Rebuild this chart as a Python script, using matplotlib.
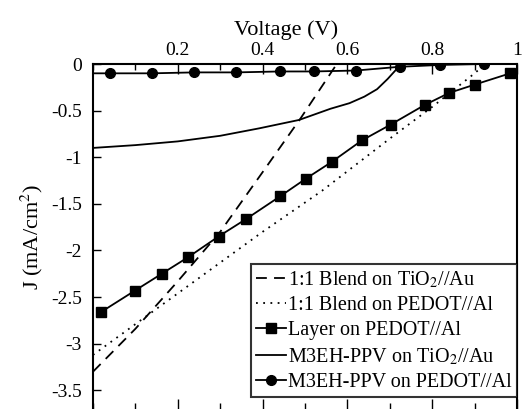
import matplotlib
matplotlib.use('Agg')
import matplotlib.pyplot as plt
from matplotlib.ticker import MultipleLocator

plt.rcParams['font.family'] = 'serif'
plt.rcParams['font.serif'] = ['Liberation Serif', 'DejaVu Serif']
plt.rcParams['mathtext.fontset'] = 'stix'

# 1:1 blend on TiO2//Au (dashed)
blend_tio2_v = [0.0, 0.1, 0.2, 0.3, 0.4, 0.49, 0.575]
blend_tio2_j = [-3.3, -2.84, -2.33, -1.8, -1.16, -0.58, 0.0]

# 1:1 blend on PEDOT//Al (dotted)
blend_pedot_v = [0.0, 0.2, 0.4, 0.54, 0.7, 0.8, 0.9, 0.92]
blend_pedot_j = [-3.12, -2.46, -1.8, -1.36, -0.8, -0.46, -0.1, -0.02]

# layer on PEDOT//Al (squares)
layer_v = [0.019, 0.099, 0.162, 0.225, 0.296, 0.362, 0.441, 0.502, 0.563,
           0.634, 0.702, 0.782, 0.840, 0.901, 0.984]
layer_j = [-2.66, -2.43, -2.25, -2.07, -1.85, -1.66, -1.42, -1.23, -1.05,
           -0.82, -0.65, -0.44, -0.31, -0.22, -0.10]

# M3EH-PPV on TiO2//Au (solid)
ppv_tio2_v = [0.0, 0.1, 0.2, 0.3, 0.392, 0.486, 0.56, 0.605, 0.64, 0.67, 0.695, 0.715, 0.735]
ppv_tio2_j = [-0.9, -0.87, -0.83, -0.77, -0.69, -0.6, -0.48, -0.42, -0.35, -0.27, -0.16, -0.06, -0.02]

# M3EH-PPV on PEDOT//Al (circles)
ppv_pedot_v = [0.0, 0.04, 0.139, 0.239, 0.338, 0.441, 0.521, 0.62, 0.723, 0.819, 0.922]
ppv_pedot_j = [-0.1, -0.1, -0.1, -0.09, -0.09, -0.08, -0.08, -0.07, -0.03, -0.01, 0.0]
ppv_pedot_marked = list(range(1, len(ppv_pedot_v)))

xticks = [0.2, 0.4, 0.6, 0.8, 1.0]
xticklabels = ['0.2', '0.4', '0.6', '0.8', '1']
yticks = [0, -0.5, -1, -1.5, -2, -2.5, -3, -3.5]
yticklabels = ['0', '-0.5', '-1', '-1.5', '-2', '-2.5', '-3', '-3.5']

fig = plt.figure(figsize=(5.22, 4.09), dpi=100)
ax = fig.add_axes([93 / 522, 0.0, 424 / 522, 1 - 64 / 409])

ax.plot(blend_tio2_v, blend_tio2_j, color='black', lw=1.3, ls=(0, (6, 4)),
        label='1:1 Blend on TiO$_2$//Au')
ax.plot(blend_pedot_v, blend_pedot_j, color='black', lw=1.3, ls=(0, (1, 3)),
        label='1:1 Blend on PEDOT//Al')
ax.plot(layer_v, layer_j, color='black', lw=1.3, marker='s', ms=7.5,
        label='Layer on PEDOT//Al')
ax.plot(ppv_tio2_v, ppv_tio2_j, color='black', lw=1.3,
        label='M3EH-PPV on TiO$_2$//Au')
ax.plot(ppv_pedot_v, ppv_pedot_j, color='black', lw=1.3, marker='o', ms=7,
        markevery=ppv_pedot_marked, label='M3EH-PPV on PEDOT//Al')

ax.set_xlim(0, 1)
ax.set_ylim(-3.70, 0)

ax.xaxis.set_label_position('top')
ax.set_xlabel('Voltage (V)', fontsize=16)
ax.xaxis.set_label_coords(0.455, 1.085)
ax.set_ylabel('J (mA/cm$^2$)', fontsize=16, labelpad=4)

ax.set_xticks(xticks)
ax.set_xticklabels(xticklabels)
ax.xaxis.set_minor_locator(MultipleLocator(0.1))
ax.set_yticks(yticks)
ax.set_yticklabels(yticklabels)
ax.tick_params(axis='x', which='both', direction='in', top=True, bottom=True,
               labeltop=True, labelbottom=False, labelsize=14)
ax.tick_params(axis='x', which='major', length=7, width=1)
ax.tick_params(axis='x', which='minor', length=4, width=1)
ax.tick_params(axis='y', direction='in', left=True, right=False, length=6,
               width=1, labelsize=14, pad=8)

ax.spines['bottom'].set_visible(False)
for s in ['top', 'left', 'right']:
    ax.spines[s].set_linewidth(1.5)

leg = ax.legend(loc='lower right', bbox_to_anchor=(517 / 522, 12 / 409),
                bbox_transform=fig.transFigure, borderaxespad=0, fontsize=14.5,
                handlelength=1.5, handletextpad=0.1, labelspacing=0.3,
                borderpad=0.25, fancybox=False, frameon=True)
leg.get_frame().set_edgecolor('black')
leg.get_frame().set_linewidth(1.5)

fig.savefig('out.png', dpi=100)
